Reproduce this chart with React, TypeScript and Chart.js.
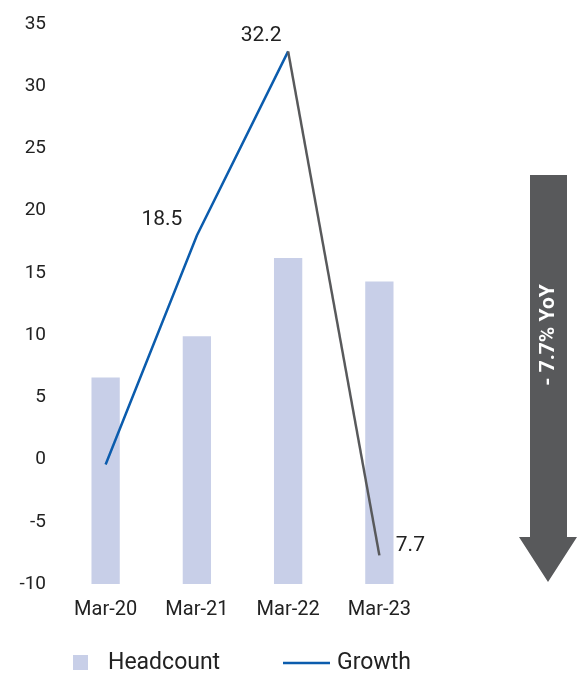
import React, { useEffect, useRef } from "react";
import { Chart, registerables } from "chart.js";

Chart.register(...registerables);

const categories = ["Mar-20", "Mar-21", "Mar-22", "Mar-23"];
const headcount = [6.6, 9.9, 16.2, 14.3];
const growth = [-0.4, 18.0, 32.8, -7.7];
const growthLabels = ["", "18.5", "32.2", "7.7"];
const labelOffsets = [[0, 0], [-35, -16], [-27, -16], [31, -10]];
const arrowText = "- 7.7% YoY";
const legendNames = ["Headcount", "Growth"];

const BAR = "#c8cfe8";
const BLUE = "#0b5cad";
const GRAY = "#58595b";
const FONT = "Roboto, 'Liberation Sans', sans-serif";

const overlay = {
  id: "overlay",
  afterDraw(chart: any) {
    const ctx = chart.ctx;
    const meta = chart.getDatasetMeta(1);
    ctx.save();
    ctx.fillStyle = "#222";
    ctx.font = `21px ${FONT}`;
    ctx.textAlign = "center";
    ctx.textBaseline = "middle";
    meta.data.forEach((pt: any, i: number) => {
      if (!growthLabels[i]) return;
      ctx.fillText(growthLabels[i], pt.x + labelOffsets[i][0], pt.y + labelOffsets[i][1]);
    });

    // Arrow
    ctx.fillStyle = GRAY;
    ctx.beginPath();
    ctx.moveTo(530, 175);
    ctx.lineTo(567, 175);
    ctx.lineTo(567, 537);
    ctx.lineTo(577, 537);
    ctx.lineTo(548, 582);
    ctx.lineTo(519, 537);
    ctx.lineTo(530, 537);
    ctx.closePath();
    ctx.fill();
    ctx.save();
    ctx.translate(549, 335);
    ctx.rotate(-Math.PI / 2);
    ctx.fillStyle = "#fff";
    ctx.font = `bold 21px ${FONT}`;
    ctx.fillText(arrowText, 0, 0);
    ctx.restore();

    // Legend
    ctx.fillStyle = BAR;
    ctx.fillRect(73, 655, 15, 15);
    ctx.fillStyle = "#222";
    ctx.font = `23px ${FONT}`;
    ctx.textAlign = "left";
    ctx.fillText(legendNames[0], 108, 663);
    ctx.strokeStyle = BLUE;
    ctx.lineWidth = 2.5;
    ctx.beginPath();
    ctx.moveTo(283, 663);
    ctx.lineTo(330, 663);
    ctx.stroke();
    ctx.fillText(legendNames[1], 337, 663);
    ctx.restore();
  },
};

export default function App() {
  const ref = useRef<HTMLCanvasElement>(null);
  useEffect(() => {
    document.body.style.margin = "0";
    const chart = new Chart(ref.current!, {
      type: "bar",
      data: {
        labels: categories,
        datasets: [
          {
            type: "bar",
            label: legendNames[0],
            data: headcount.map((v) => [-10, v]) as any,
            backgroundColor: BAR,
            categoryPercentage: 1,
            barPercentage: 0.31,
            order: 2,
          },
          {
            type: "line",
            label: legendNames[1],
            data: growth,
            borderColor: BLUE,
            borderWidth: 2.5,
            pointRadius: 0,
            tension: 0,
            order: 1,
            segment: {
              borderColor: (c: any) => (c.p0DataIndex === 2 ? GRAY : BLUE),
            },
          } as any,
        ],
      },
      options: {
        responsive: false,
        animation: false,
        layout: { padding: { top: 24, right: 152, bottom: 53, left: 0 } },
        plugins: { legend: { display: false }, tooltip: { enabled: false } },
        scales: {
          x: {
            grid: { display: false },
            border: { display: false },
            ticks: { color: "#222", font: { size: 20, family: FONT }, padding: 6 },
            afterFit: (s: any) => {
              s.height = 40;
            },
          },
          y: {
            min: -10,
            max: 35,
            grid: { display: false },
            border: { display: false },
            ticks: { stepSize: 5, color: "#222", font: { size: 19, family: FONT }, padding: 6 },
            afterFit: (s: any) => {
              s.width = 60;
            },
          },
        },
      },
      plugins: [overlay],
    });
    return () => chart.destroy();
  }, []);
  return (
    <div style={{ width: 577, height: 677 }}>
      <canvas ref={ref} width={577} height={677} />
    </div>
  );
}
